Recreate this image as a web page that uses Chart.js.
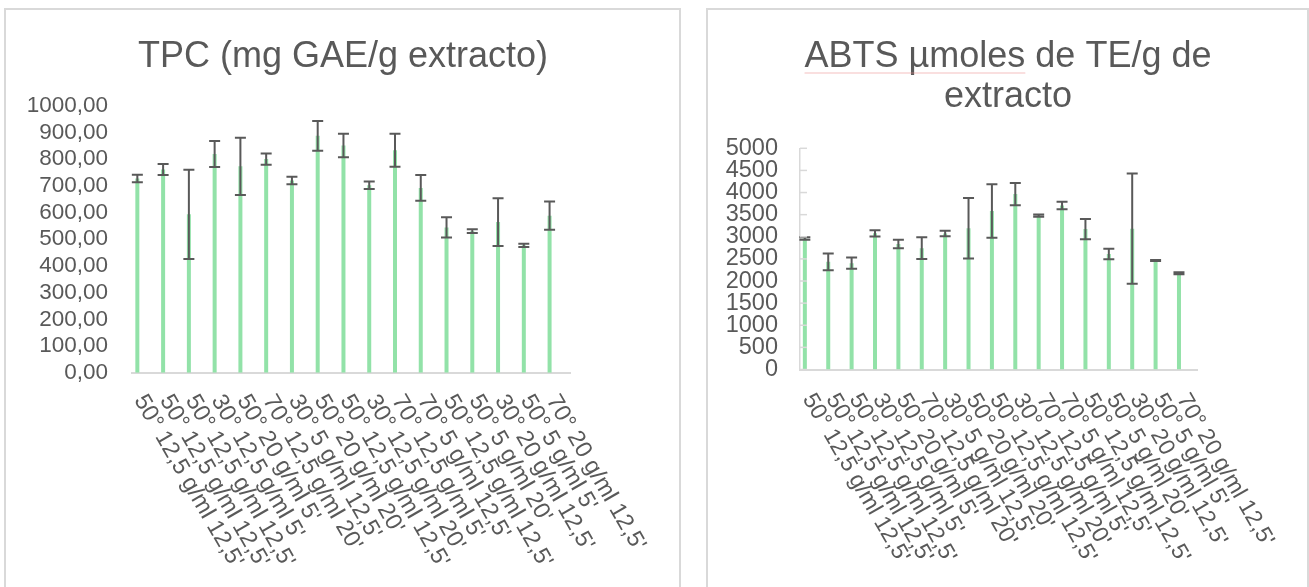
<!DOCTYPE html>
<html><head><meta charset="utf-8">
<script src="https://cdn.jsdelivr.net/npm/chart.js@4.4.1/dist/chart.umd.min.js"></script>
<style>
html,body{margin:0;padding:0;background:#fff;width:1309px;height:587px;overflow:hidden;}
.box{position:absolute;border:2px solid #d9d9d9;box-sizing:border-box;}
canvas{position:absolute;}
</style></head><body>
<div class="box" style="left:4px;top:8px;width:677px;height:620px"></div>
<div class="box" style="left:706px;top:8px;width:603px;height:620px"></div>
<canvas id="c1" width="672" height="576" style="left:7px;top:11px"></canvas>
<canvas id="c2" width="596" height="576" style="left:710px;top:11px"></canvas>
<script>
// ---- data ----
const categories = [
  "50° 12,5 g/ml 12,5'", "50° 12,5 g/ml 12,5'", "50° 12,5 g/ml 12,5'", "30° 12,5 g/ml 5'",
  "50° 20 g/ml 5'", "70° 12,5 g/ml 20'", "30° 5 g/ml 12,5'", "50° 20 g/ml 20'",
  "50° 12,5 g/ml 12,5'", "30° 12,5 g/ml 20'", "70° 12,5 g/ml 5'", "70° 5 g/ml 12,5'",
  "50° 12,5 g/ml 12,5'", "50° 5 g/ml 20'", "30° 20 g/ml 12,5'", "50° 5 g/ml 5'", "70° 20 g/ml 12,5'"
];
const tpcMeans  = [727, 761, 593, 819, 773, 800, 720, 887, 851, 702, 833, 692, 544, 530, 564, 477, 588];
const tpcErrors = [14, 21, 167, 49, 107, 21, 14, 56, 44, 14, 62, 48, 38, 7, 89, 6, 53];
const tpcTickLabels = ["0,00","100,00","200,00","300,00","400,00","500,00","600,00","700,00","800,00","900,00","1000,00"];

const abtsMeans  = [2961, 2433, 2404, 3077, 2837, 2743, 3074, 3194, 3582, 3966, 3476, 3706, 3175, 2611, 3183, 2463, 2178];
const abtsErrors = [26, 188, 128, 72, 94, 248, 60, 685, 606, 252, 26, 83, 229, 117, 1245, 12, 23];
const abtsTickLabels = ["0","500","1000","1500","2000","2500","3000","3500","4000","4500","5000"];

const tpcTitle = ["TPC (mg GAE/g extracto)"];
const abtsTitle = ["ABTS µmoles de TE/g de", "extracto"];

// ---- styling ----
const FONT = "'Liberation Sans', Arial, sans-serif";
const TXT = '#595959';
const AXIS = '#d9d9d9';
const BAR = '#92E2A8';

function errorBarPlugin(errors){
  return { id:'errorBars', afterDatasetsDraw(chart){
    const meta = chart.getDatasetMeta(0), ys = chart.scales.y, ctx = chart.ctx;
    const vals = chart.data.datasets[0].data;
    ctx.save(); ctx.strokeStyle = TXT; ctx.lineWidth = 2;
    meta.data.forEach((bar,i)=>{
      const x = bar.x, yt = ys.getPixelForValue(vals[i]+errors[i]), yb = ys.getPixelForValue(vals[i]-errors[i]);
      ctx.beginPath();
      ctx.moveTo(x,yt); ctx.lineTo(x,yb);
      ctx.moveTo(x-5.5,yt); ctx.lineTo(x+5.5,yt);
      ctx.moveTo(x-5.5,yb); ctx.lineTo(x+5.5,yb);
      ctx.stroke();
    });
    ctx.restore();
  }};
}
function rotatedLabelsPlugin(labels, o){
  return { id:'rotLabels', afterDraw(chart){
    const meta = chart.getDatasetMeta(0), xs = chart.scales.x, ctx = chart.ctx;
    ctx.save(); ctx.fillStyle = TXT; ctx.font = o.size + 'px ' + FONT;
    ctx.textAlign = 'left'; ctx.textBaseline = 'middle';
    meta.data.forEach((bar,i)=>{
      ctx.save(); ctx.translate(bar.x + o.dx, xs.top + o.dy); ctx.rotate(o.angle*Math.PI/180);
      ctx.fillText(labels[i], 0, 0); ctx.restore();
    });
    ctx.restore();
  }};
}
function titlePlugin(lines, mids, underline){
  return { id:'ctitle', afterDraw(chart){
    const ctx = chart.ctx, cx = chart.width/2;
    ctx.save(); ctx.font = '36px ' + FONT; ctx.fillStyle = TXT;
    ctx.textAlign = 'center'; ctx.textBaseline = 'middle';
    lines.forEach((t,i)=>ctx.fillText(t, cx, mids[i]));
    if (underline) {
      const full = ctx.measureText(lines[0]).width, part = ctx.measureText(underline).width;
      ctx.strokeStyle = 'rgba(235,140,140,0.55)'; ctx.lineWidth = 1;
      ctx.beginPath(); ctx.moveTo(cx - full/2, mids[0] + 16); ctx.lineTo(cx - full/2 + part, mids[0] + 16); ctx.stroke();
    }
    ctx.restore();
  }};
}
const innerTicksPlugin = { id:'innerTicks', afterDraw(chart){
  const ys = chart.scales.y, ctx = chart.ctx, left = chart.chartArea.left;
  ctx.save(); ctx.strokeStyle = AXIS; ctx.lineWidth = 1.5;
  ys.ticks.forEach(t=>{ const y = ys.getPixelForValue(t.value);
    ctx.beginPath(); ctx.moveTo(left, y); ctx.lineTo(left+7, y); ctx.stroke(); });
  ctx.restore();
}};

function makeChart(id, o){
  return new Chart(document.getElementById(id), {
    type:'bar',
    data:{ labels: categories, datasets:[
      { data:o.means, backgroundColor:BAR, borderWidth:0, barPercentage:1, categoryPercentage:1.17, maxBarThickness:4 },
      { data:[], backgroundColor:'rgba(0,0,0,0)', barPercentage:1, categoryPercentage:1.17, maxBarThickness:4 }
    ]},
    options:{
      responsive:false, animation:false, devicePixelRatio:1,
      layout:{ padding:{ left:0, right:o.padRight, top:o.padTop, bottom:0 } },
      plugins:{ legend:{display:false}, tooltip:{enabled:false}, title:{display:false} },
      scales:{
        x:{ grid:{display:false}, ticks:{display:false},
            border:{display:true, color:AXIS, width:2},
            afterFit(s){ s.height = o.xHeight; } },
        y:{ min:0, max:o.max, grid:{display:false, drawTicks:false},
            border:{display:o.yBorder, color:AXIS, width:1.5},
            ticks:{ stepSize:o.step, autoSkip:false, color:TXT, padding:o.tickPad, font:{family:FONT, size:o.tickSize},
                    callback:(v,i)=>o.tickLabels[i] },
            afterFit(s){ s.width = o.yWidth; } }
      }
    },
    plugins: o.plugins
  });
}

makeChart('c1', { means:tpcMeans, max:1000, step:100, tickLabels:tpcTickLabels,
  padRight:109, padTop:94.7, xHeight:214.3, yWidth:125, yBorder:false, tickPad:24, tickSize:22.5,
  plugins:[errorBarPlugin(tpcErrors), rotatedLabelsPlugin(categories,{size:23.5, dx:2, dy:24, angle:60}),
           titlePlugin(tpcTitle, [46])] });

makeChart('c2', { means:abtsMeans, max:5000, step:500, tickLabels:abtsTickLabels,
  padRight:108.5, padTop:137.3, xHeight:217.5, yWidth:90, yBorder:true, tickPad:22, tickSize:23.5,
  plugins:[innerTicksPlugin, errorBarPlugin(abtsErrors), rotatedLabelsPlugin(categories,{size:23, dx:3, dy:26, angle:60}),
           titlePlugin(abtsTitle, [46, 86], "ABTS µmoles")] });
</script>
</body></html>
